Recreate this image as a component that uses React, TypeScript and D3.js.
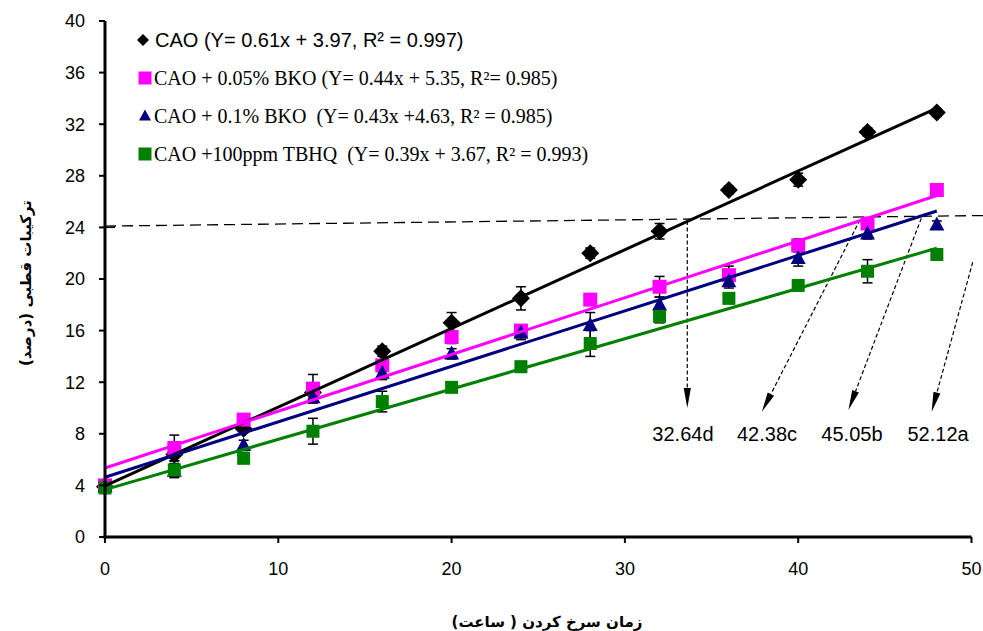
import React from "react";
import * as d3 from "d3";

const hours = [0, 4, 8, 12, 16, 20, 24, 28, 32, 36, 40, 44, 48];
const caoValues = [3.9, 6.4, 8.4, 11.2, 14.4, 16.6, 18.5, 22.0, 23.7, 26.9, 27.7, 31.4, 32.9];
const caoErr = [0.4, 0.5, 0.3, 0.6, 0.4, 0.8, 0.9, 0.4, 0.6, 0.3, 0.5, 0.3, 0.3];
const bko005Values = [4.0, 6.9, 9.1, 11.5, 13.3, 15.5, 16.0, 18.4, 19.4, 20.3, 22.6, 24.3, 26.9];
const bko005Err = [0.3, 1.0, 0.3, 1.1, 0.4, 0.5, 0.4, 0.4, 0.8, 0.7, 0.5, 0.4, 0.3];
const bko01Values = [3.9, 5.1, 7.1, 10.8, 12.7, 14.2, 15.8, 16.4, 18.0, 19.8, 21.6, 23.5, 24.2];
const bko01Err = [0.3, 0.5, 0.4, 0.4, 0.5, 0.4, 0.5, 1.0, 0.6, 0.5, 0.6, 0.4, 0.3];
const tbhqValues = [3.8, 5.2, 6.1, 8.2, 10.5, 11.6, 13.2, 15.0, 17.1, 18.5, 19.5, 20.6, 21.9];
const tbhqErr = [0.4, 0.5, 0.3, 1.0, 0.8, 0.3, 0.4, 1.0, 0.5, 0.4, 0.4, 0.9, 0.3];

const seriesNames = [
  "CAO (Y= 0.61x + 3.97, R\u00B2 = 0.997)",
  "CAO + 0.05% BKO (Y= 0.44x + 5.35, R\u00B2= 0.985)",
  "CAO + 0.1% BKO  (Y= 0.43x +4.63, R\u00B2 = 0.985)",
  "CAO +100ppm TBHQ  (Y= 0.39x + 3.67, R\u00B2 = 0.993)",
];
const slopes = [0.61, 0.44, 0.43, 0.39];
const intercepts = [3.97, 5.35, 4.63, 3.67];
const colors = ["#000000", "#FF00FF", "#000080", "#008000"];
const shapes = ["diamond", "square", "triangle", "square"];

const xTicks = [0, 10, 20, 30, 40, 50];
const yTicks = [0, 4, 8, 12, 16, 20, 24, 28, 32, 36, 40];

// annotation: reference level line and arrows (data units)
const refLine = [[0, 24.1], [50.66, 24.92]];
const arrowStarts = [[33.6, 24.5], [43.56, 24.57], [47.1, 24.7], [50.07, 21.3]];
const arrowEnds = [[33.6, 10.0], [37.9, 9.7], [42.9, 9.85], [47.7, 9.7]];
const arrowLabels = ["32.64d", "42.38c", "45.05b", "52.12a"];
const labelX = [33.35, 38.2, 43.1, 48.07];
const labelY = 7.45;

const yTitle = "ترکیبات قطبی (درصد)";
const xTitle = "زمان سرخ کردن ( ساعت)";

const W = 983;
const H = 631;

function Marker({ shape, color, cx, cy, big }: any) {
  if (shape === "diamond") {
    const s = big ? 9 : 6;
    return <path d={`M${cx},${cy - s}L${cx + s},${cy}L${cx},${cy + s}L${cx - s},${cy}Z`} fill={color} />;
  }
  if (shape === "triangle") {
    const w = big ? 7.5 : 6;
    const h = big ? 14 : 11;
    return <path d={`M${cx},${cy - h * 0.6}L${cx + w},${cy + h * 0.4}L${cx - w},${cy + h * 0.4}Z`} fill={color} />;
  }
  const s = big ? (color === "#008000" ? 6.5 : 7) : 6.5;
  return <rect x={cx - s} y={cy - s} width={2 * s} height={2 * s} fill={color} />;
}

export default function App() {
  const x = d3.scaleLinear().domain([0, 50]).range([105, 971.5]);
  const y = d3.scaleLinear().domain([0, 40]).range([537, 21]);
  const allValues = [caoValues, bko005Values, bko01Values, tbhqValues];
  const allErr = [caoErr, bko005Err, bko01Err, tbhqErr];
  const line = d3.line<number[]>().x((d) => x(d[0])).y((d) => y(d[1]));

  return (
    <svg width={W} height={H} style={{ position: "absolute", left: 0, top: 0, background: "#fff" }}>
      <defs>
        <marker id="ah" viewBox="0 0 10 20" refX="5" refY="20" markerWidth="7" markerHeight="20" markerUnits="userSpaceOnUse" orient="auto-start-reverse">
          <path d="M0,0L5,20L10,0Z" fill="#000" />
        </marker>
      </defs>

      {/* reference dashed line */}
      <path d={line(refLine as any) as string} stroke="#000" strokeWidth={1.3} strokeDasharray="11,6" fill="none" />

      {/* arrows */}
      {arrowStarts.map((s, i) => {
        const e = arrowEnds[i];
        const x1 = x(s[0]), y1 = y(s[1]), x2 = x(e[0]), y2 = y(e[1]);
        const len = Math.hypot(x2 - x1, y2 - y1);
        const ux = (x2 - x1) / len, uy = (y2 - y1) / len;
        const hl = 20, hw = 3.6;
        const bx = x2 - ux * hl, by = y2 - uy * hl;
        return (
          <g key={"a" + i}>
            <line x1={x1} y1={y1} x2={bx} y2={by} stroke="#000" strokeWidth={1.2} strokeDasharray="4,2.5" />
            <path d={`M${x2},${y2}L${bx - uy * hw},${by + ux * hw}L${bx + uy * hw},${by - ux * hw}Z`} fill="#000" />
          </g>
        );
      })}
      {arrowLabels.map((t, i) => (
        <text key={"l" + i} x={x(labelX[i])} y={y(labelY)} textAnchor="middle" fontFamily="Liberation Sans, Arial" fontSize={20} fill="#000">
          {t}
        </text>
      ))}

      {/* error bars */}
      {allValues.map((vals, si) =>
        vals.map((v, i) => {
          const e = allErr[si][i];
          const cx = x(hours[i]);
          return (
            <g key={`e${si}-${i}`} stroke="#000" strokeWidth={1.5}>
              <line x1={cx} x2={cx} y1={y(v - e)} y2={y(v + e)} />
              <line x1={cx - 5} x2={cx + 5} y1={y(v - e)} y2={y(v - e)} />
              <line x1={cx - 5} x2={cx + 5} y1={y(v + e)} y2={y(v + e)} />
            </g>
          );
        })
      )}

      {/* markers */}
      {allValues.map((vals, si) =>
        vals.map((v, i) => (
          <Marker key={`m${si}-${i}`} shape={shapes[si]} color={colors[si]} cx={x(hours[i])} cy={y(v)} big />
        ))
      )}

      {/* trend lines */}
      {slopes.map((m, si) => (
        <path
          key={"t" + si}
          d={line([[0, intercepts[si]], [48, m * 48 + intercepts[si]]]) as string}
          stroke={colors[si]}
          strokeWidth={3}
          fill="none"
        />
      ))}

      {/* axes */}
      <line x1={x(0)} x2={x(0)} y1={y(0) + 1.5} y2={y(40)} stroke="#000" strokeWidth={3} />
      <line x1={x(0) - 1.5} x2={x(50)} y1={y(0)} y2={y(0)} stroke="#000" strokeWidth={3} />
      {yTicks.map((t) => (
        <g key={"yt" + t}>
          <line x1={x(0) - 6} x2={x(0)} y1={y(t)} y2={y(t)} stroke="#000" strokeWidth={2} />
          <text x={85} y={y(t)} dy="0.35em" textAnchor="end" fontFamily="Liberation Sans, Arial" fontSize={18} fill="#000">
            {t}
          </text>
        </g>
      ))}
      <line x1={x(0)} x2={x(0) + 10} y1={y(24)} y2={y(24)} stroke="#000" strokeWidth={1.3} />
      {xTicks.map((t) => (
        <g key={"xt" + t}>
          <line x1={x(t)} x2={x(t)} y1={y(0)} y2={y(0) + 6} stroke="#000" strokeWidth={2} />
          <text x={x(t)} y={575} textAnchor="middle" fontFamily="Liberation Sans, Arial" fontSize={18} fill="#000">
            {t}
          </text>
        </g>
      ))}

      {/* legend */}
      {seriesNames.map((name, i) => {
        const cy = [40, 78, 116, 154][i];
        return (
          <g key={"lg" + i}>
            <Marker shape={shapes[i]} color={colors[i]} cx={i === 0 ? 143 : 145} cy={cy} big={false} />
            <text
              x={i === 0 ? 155 : 154}
              y={cy}
              dy="0.35em"
              fontFamily={i === 0 ? "Liberation Sans, Arial" : "Liberation Serif, Times New Roman"}
              fontSize={20}
              fill="#000"
              style={{ whiteSpace: "pre" }}
            >
              {name}
            </text>
          </g>
        );
      })}

      {/* axis titles */}
      <text
        transform={`translate(26,${283}) rotate(-90)`}
        textAnchor="middle"
        dy="0.35em"
        fontFamily="DejaVu Sans"
        fontWeight="bold"
        fontSize={15}
        direction="rtl"
        fill="#000"
      >
        {yTitle}
      </text>
      <text x={547} y={622} dy="0.35em" textAnchor="middle" fontFamily="DejaVu Sans" fontWeight="bold" fontSize={15} direction="rtl" fill="#000">
        {xTitle}
      </text>
    </svg>
  );
}
